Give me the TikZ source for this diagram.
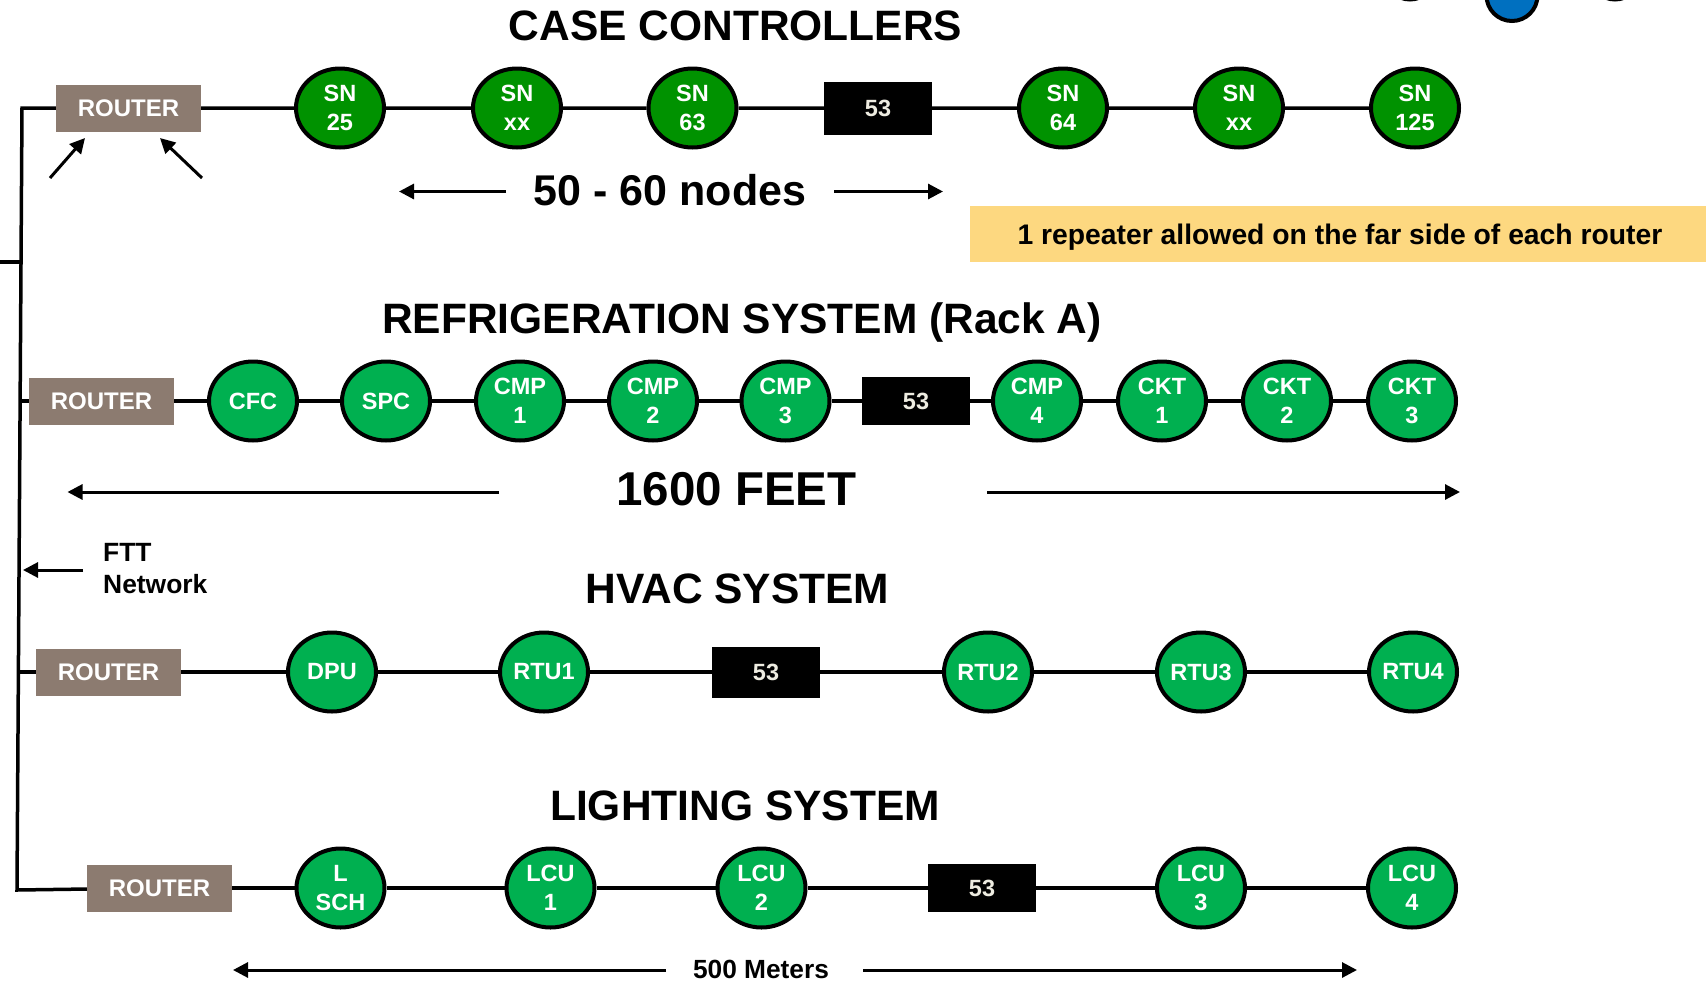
\documentclass[tikz,border=0pt]{standalone}
\usepackage{fontspec}
\setmainfont{Liberation Sans}
\usepackage{tikz}
\usetikzlibrary{shapes.geometric, arrows.meta}
\definecolor{routerbrown}{RGB}{140,123,112}
\definecolor{casegreen}{RGB}{0,146,0}
\definecolor{sysgreen}{RGB}{0,176,80}
\definecolor{noteyellow}{RGB}{253,216,128}
\definecolor{topblue}{RGB}{0,112,192}
\definecolor{repcream}{RGB}{238,236,225}

\begin{document}
\begin{tikzpicture}[x=1pt, y=-1pt,
  wire/.style={line width=3.5pt, line join=miter},
  span/.style={line width=3pt, -{Triangle[length=15pt, width=15pt]}},
  title/.style={anchor=base, inner sep=0pt, font=\fontsize{42.5}{50}\selectfont\bfseries},
  router/.style={fill=routerbrown, text=white, minimum width=145pt, minimum height=47pt, inner sep=0pt, font=\fontsize{24}{28}\selectfont\bfseries},
  rep/.style={fill=black, text=repcream, minimum width=108pt, minimum height=51pt, inner sep=0pt, font=\fontsize{23.5}{29}\selectfont\bfseries},
  unit/.style={ellipse, draw=black, line width=4pt, fill=sysgreen, text=white, minimum width=88pt, minimum height=79pt, inner sep=0pt, align=center, font=\fontsize{23.5}{29}\selectfont\bfseries},
  caseunit/.style={unit, fill=casegreen},
  topunit/.style={circle, draw=black, line width=4pt, fill=white, minimum size=51pt, inner sep=0pt}]
\useasboundingbox (0,0) rectangle (1706,983);
\clip (0,0) rectangle (1706,983);

% shapes cut by the top edge
\node[topunit] (topa) at (1410,-26) {};
\node[topunit, fill=topblue] (topb) at (1512,-4.5) {};
\node[topunit] (topc) at (1615,-26) {};

% titles
\node[title] (casetitle) at (735.5,40.5) {CASE CONTROLLERS};
\node[title] (reftitle) at (742,333.5) {REFRIGERATION SYSTEM (Rack A)};
\node[title] (hvactitle) at (737.5,603.5) {HVAC SYSTEM};
\node[title] (lighttitle) at (745,820) {LIGHTING SYSTEM};

% bus
\coordinate (bustop) at (22,108);
\coordinate (busstub) at (21,262);
\coordinate (bus2) at (20.2,401);
\coordinate (bus3) at (19,672);
\coordinate (busbot) at (17,890);
\coordinate (stub) at (0,262);

% case controllers
\node[router] (r1) at (128.5,108) {ROUTER};
\node[caseunit] (sn25) at (340,108) {SN\\25};
\node[caseunit] (snxxa) at (517,108) {SN\\xx};
\node[caseunit] (sn63) at (692.5,108) {SN\\63};
\node[rep, minimum height=53pt] (rep1) at (878,108) {53};
\node[caseunit] (sn64) at (1063,108) {SN\\64};
\node[caseunit] (snxxb) at (1239,108) {SN\\xx};
\node[caseunit] (sn125) at (1415,108) {SN\\125};

% refrigeration
\node[router] (r2) at (101.5,401) {ROUTER};
\node[unit] (cfc) at (253,401) {CFC};
\node[unit] (spc) at (386,401) {SPC};
\node[unit] (cmp1) at (520,401) {CMP\\1};
\node[unit] (cmp2) at (653,401) {CMP\\2};
\node[unit] (cmp3) at (785.5,401) {CMP\\3};
\node[rep, minimum height=48pt] (rep2) at (916,401) {53};
\node[unit] (cmp4) at (1037,401) {CMP\\4};
\node[unit] (ckt1) at (1162,401) {CKT\\1};
\node[unit] (ckt2) at (1287,401) {CKT\\2};
\node[unit] (ckt3) at (1412,401) {CKT\\3};

% hvac
\node[router] (r3) at (108.5,672) {ROUTER};
\node[unit] (dpu) at (332,672) {DPU};
\node[unit] (rtu1) at (544,672) {RTU1};
\node[rep] (rep3) at (766,672) {53};
\node[unit] (rtu2) at (988,672) {RTU2};
\node[unit] (rtu3) at (1201,672) {RTU3};
\node[unit] (rtu4) at (1413,672) {RTU4};

% lighting
\node[router] (r4) at (159.5,888) {ROUTER};
\node[unit] (lsch) at (340.5,888) {L\\SCH};
\node[unit] (lcu1) at (550.5,888) {LCU\\1};
\node[unit] (lcu2) at (761.5,888) {LCU\\2};
\node[rep, minimum height=48pt] (rep4) at (982,888) {53};
\node[unit] (lcu3) at (1201,888) {LCU\\3};
\node[unit] (lcu4) at (1412,888) {LCU\\4};

% wires
\draw[wire] (r4) -- (busbot) -- (bustop) -- (r1) -- (sn25) -- (snxxa) -- (sn63) -- (rep1) -- (sn64) -- (snxxb) -- (sn125);
\draw[wire] (stub) -- (busstub);
\draw[wire] (bus2) -- (r2) -- (cfc) -- (spc) -- (cmp1) -- (cmp2) -- (cmp3) -- (rep2) -- (cmp4) -- (ckt1) -- (ckt2) -- (ckt3);
\draw[wire] (bus3) -- (r3) -- (dpu) -- (rtu1) -- (rep3) -- (rtu2) -- (rtu3) -- (rtu4);
\draw[wire] (r4) -- (lsch) -- (lcu1) -- (lcu2) -- (rep4) -- (lcu3) -- (lcu4);

% arrows at the first router
\coordinate (ra1) at (50,178);
\coordinate (ra1tip) at (85,138);
\coordinate (ra2) at (202,178);
\coordinate (ra2tip) at (160,138);
\draw[span] (ra1) -- (ra1tip);
\draw[span] (ra2) -- (ra2tip);

% spans
\node[anchor=base, inner sep=0pt, font=\fontsize{43}{50}\selectfont\bfseries] (nodecount) at (670,205.5) {50 - 60 nodes};
\coordinate (nc1) at (506,191.5);
\coordinate (nc1tip) at (399,191.5);
\coordinate (nc2) at (834,191.5);
\coordinate (nc2tip) at (943,191.5);
\draw[span] (nc1) -- (nc1tip);
\draw[span] (nc2) -- (nc2tip);

\node[anchor=base, inner sep=0pt, font=\fontsize{47.5}{54}\selectfont\bfseries] (feet) at (736.5,505.5) {1600 FEET};
\coordinate (ft1) at (499,492);
\coordinate (ft1tip) at (67.5,492);
\coordinate (ft2) at (987,492);
\coordinate (ft2tip) at (1460,492);
\draw[span] (ft1) -- (ft1tip);
\draw[span] (ft2) -- (ft2tip);

\node[anchor=base, inner sep=0pt, font=\fontsize{26.3}{30}\selectfont\bfseries] (meters) at (761,978) {500 Meters};
\coordinate (mt1) at (666,970);
\coordinate (mt1tip) at (233,970);
\coordinate (mt2) at (863,970);
\coordinate (mt2tip) at (1357,970);
\draw[span] (mt1) -- (mt1tip);
\draw[span] (mt2) -- (mt2tip);

% ftt network
\node[anchor=west, inner sep=0pt, align=left, font=\fontsize{26.4}{32}\selectfont\bfseries] (ftt) at (103,569) {FTT\\Network};
\coordinate (ftttail) at (83,570);
\coordinate (ftttip) at (23,570);
\draw[span] (ftttail) -- (ftttip);

% note
\node[fill=noteyellow, minimum width=740pt, minimum height=56pt, text depth=0pt, inner sep=0pt, font=\fontsize{28.3}{32}\selectfont\bfseries] (note) at (1340,234) {1 repeater allowed on the far side of each router};
\end{tikzpicture}
\end{document}
